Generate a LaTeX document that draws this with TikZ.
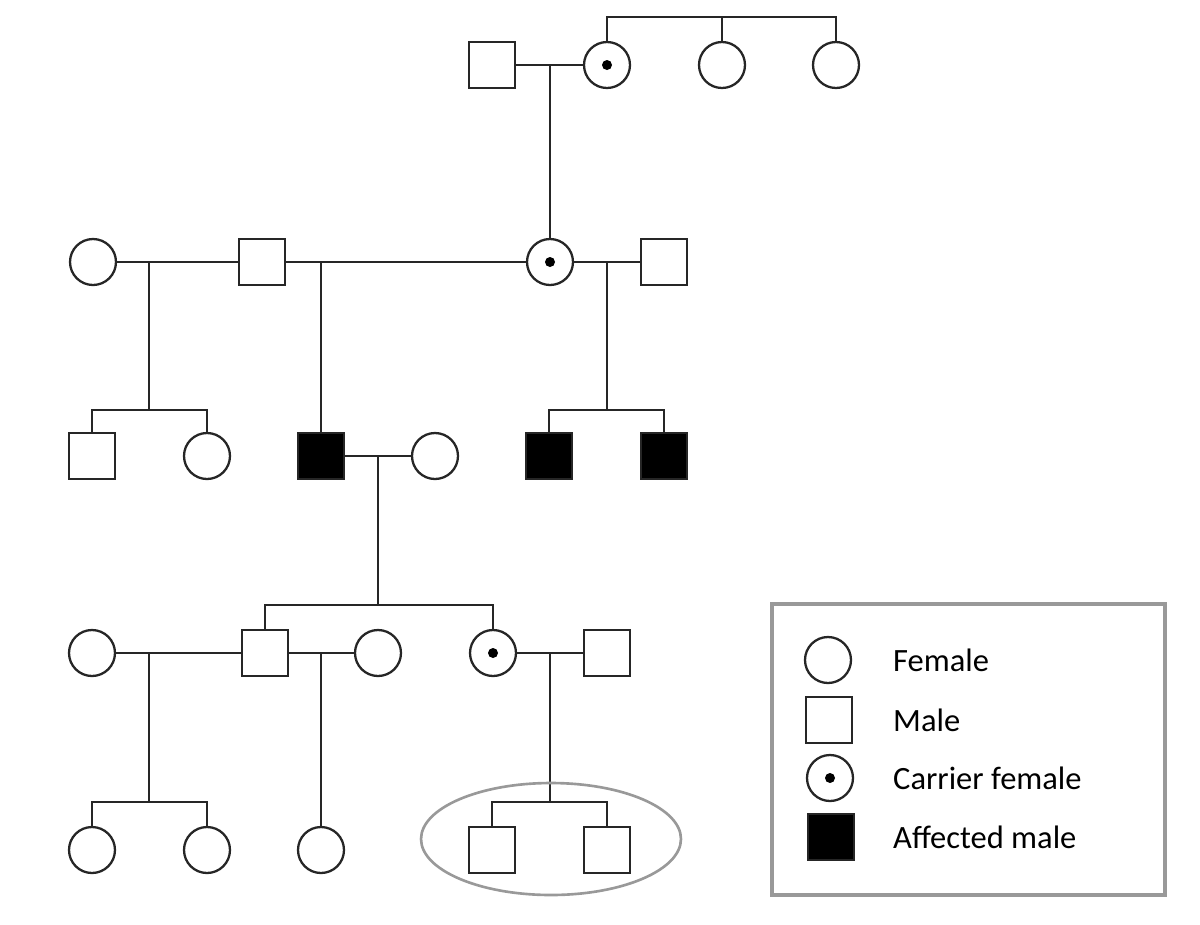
\documentclass[tikz,border=0pt]{standalone}
\usepackage{fontspec}
\setmainfont{Carlito}

\tikzset{
    person/.style={draw=black!85, line width=1.3pt, fill=white, inner sep=0pt, minimum size=0.92cm},
    male/.style={person, rectangle},
    female/.style={person, circle},
    carrier/.style={female, path picture={\fill[black] (path picture bounding box.center) circle (0.1cm);}},
    affected/.style={male, fill=black},
    link/.style={draw=black!85, line width=1.3pt},
    legendtext/.style={anchor=west, font=\fontsize{18.5}{22}\selectfont}
}

\begin{document}
\begin{tikzpicture}[x=0.02cm, y=-0.02cm]
        \useasboundingbox (0,0) rectangle (1200,924);

        % Generation I
        \node[male] (g1a) at (492, 65) {};
        \node[carrier] (g1b) at (607, 65) {};
        \node[female] (g1c) at (722, 65) {};
        \node[female] (g1d) at (836, 65) {};
        \coordinate (s1) at (722, 17);
        \coordinate (m1) at (550, 65);
        \draw[link] (g1b.north) |- (s1) -| (g1d.north);
        \draw[link] (s1) -- (g1c.north);
        \draw[link] (g1a.east) -- (g1b.west);

        % Generation II
        \node[female] (g2a) at (93, 262) {};
        \node[male] (g2b) at (262, 262) {};
        \node[carrier] (g2c) at (550, 262) {};
        \node[male] (g2d) at (664, 262) {};
        \draw[link] (m1) -- (g2c.north);
        \coordinate (m2a) at (149, 262);
        \coordinate (m2b) at (321, 262);
        \coordinate (m2c) at (607, 262);
        \draw[link] (g2a.east) -- (g2b.west);
        \draw[link] (g2b.east) -- (g2c.west);
        \draw[link] (g2c.east) -- (g2d.west);

        % Generation III
        \node[male] (g3a) at (92, 456) {};
        \node[female] (g3b) at (207, 456) {};
        \node[affected] (g3c) at (321, 456) {};
        \node[female] (g3d) at (435, 456) {};
        \node[affected] (g3e) at (549, 456) {};
        \node[affected] (g3f) at (664, 456) {};
        \coordinate (s3a) at (149, 410);
        \coordinate (s3b) at (607, 410);
        \coordinate (m3) at (378, 456);
        \draw[link] (m2a) -- (s3a);
        \draw[link] (g3a.north) |- (s3a) -| (g3b.north);
        \draw[link] (m2b) -- (g3c.north);
        \draw[link] (m2c) -- (s3b);
        \draw[link] (g3e.north) |- (s3b) -| (g3f.north);
        \draw[link] (g3c.east) -- (g3d.west);

        % Generation IV
        \node[female] (g4a) at (92, 653) {};
        \node[male] (g4b) at (265, 653) {};
        \node[female] (g4c) at (378, 653) {};
        \node[carrier] (g4d) at (493, 653) {};
        \node[male] (g4e) at (607, 653) {};
        \coordinate (s4) at (378, 605);
        \draw[link] (m3) -- (s4);
        \draw[link] (g4b.north) |- (s4) -| (g4d.north);
        \coordinate (m4a) at (149, 653);
        \coordinate (m4b) at (321, 653);
        \coordinate (m4c) at (550, 653);
        \draw[link] (g4a.east) -- (g4b.west);
        \draw[link] (g4b.east) -- (g4c.west);
        \draw[link] (g4d.east) -- (g4e.west);

        % Generation V
        \node[female] (g5a) at (92, 850) {};
        \node[female] (g5b) at (207, 850) {};
        \node[female] (g5c) at (321, 850) {};
        \node[male] (g5d) at (492, 850) {};
        \node[male] (g5e) at (607, 850) {};
        \coordinate (s5a) at (149, 802);
        \coordinate (s5b) at (550, 802);
        \draw[link] (m4a) -- (s5a);
        \draw[link] (g5a.north) |- (s5a) -| (g5b.north);
        \draw[link] (m4b) -- (g5c.north);
        \draw[link] (m4c) -- (s5b);
        \draw[link] (g5d.north) |- (s5b) -| (g5e.north);

        % Highlight
        \draw[black!40, line width=1.5pt] (551, 839) ellipse [x radius=2.6cm, y radius=1.12cm];

        % Legend
        \draw[black!40, line width=1.8pt, fill=white] (772, 604) rectangle (1165, 895);
        \node[female] (keyf) at (828, 660) {};
        \node[male] (keym) at (829, 720) {};
        \node[carrier] (keyc) at (830, 778) {};
        \node[affected] (keya) at (831, 837) {};
        \node[legendtext] (txtf) at (887, 660) {Female};
        \node[legendtext] (txtm) at (887, 720) {Male};
        \node[legendtext] (txtc) at (887, 778) {Carrier female};
        \node[legendtext] (txta) at (887, 837) {Affected male};
    \end{tikzpicture}
\end{document}
